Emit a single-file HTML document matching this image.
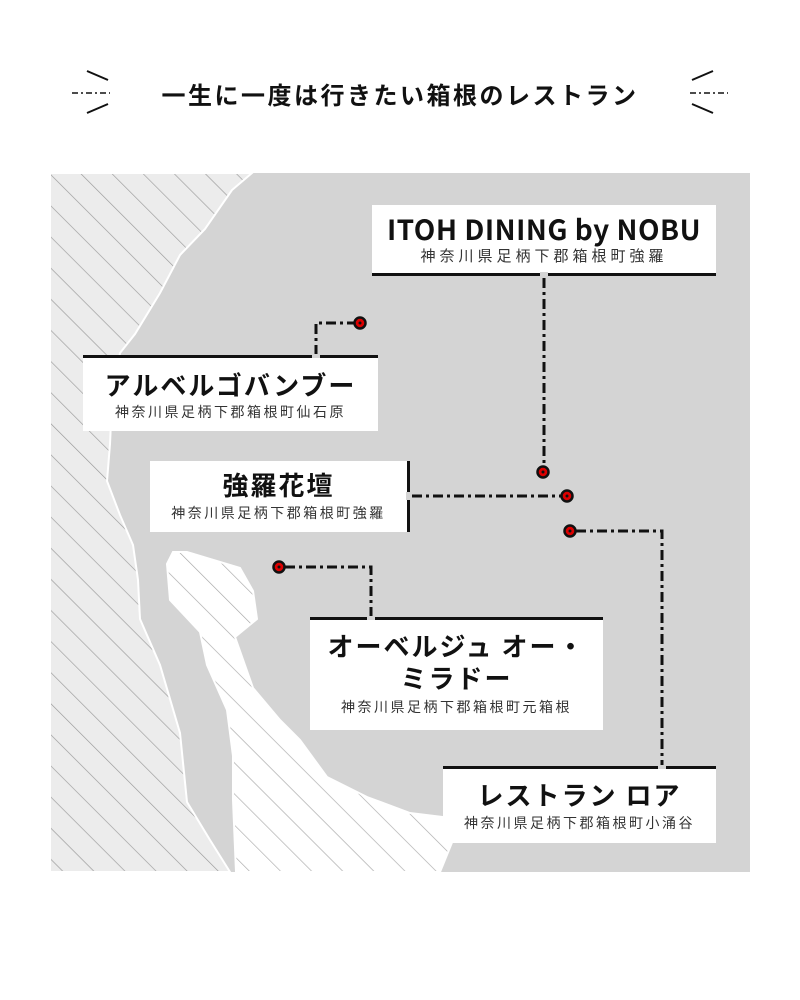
<!DOCTYPE html>
<html><head><meta charset="utf-8"><style>
html,body{margin:0;padding:0;background:#fff;}
body{width:800px;height:1000px;position:relative;overflow:hidden;font-family:"Liberation Sans","Noto Sans CJK JP",sans-serif;}
.box{position:absolute;background:#fff;text-align:center;color:#111;}
.t{font-family:"Noto Sans CJK JP",sans-serif;font-weight:bold;font-size:26px;letter-spacing:2px;line-height:32px;}
.a{font-family:"Noto Sans CJK JP",sans-serif;font-size:14px;letter-spacing:2.5px;color:#333;line-height:18px;}
h1{position:absolute;left:0;width:800px;top:76px;margin:0;text-align:center;font-family:"Noto Sans CJK JP",sans-serif;font-size:24px;letter-spacing:2.5px;font-weight:bold;color:#111;}
</style></head><body>
<svg width="800" height="1000" style="position:absolute;left:0;top:0">
<defs>
<pattern id="h1" patternUnits="userSpaceOnUse" width="22" height="22" patternTransform="rotate(-45)">
<rect width="22" height="22" fill="#ececec"/><line x1="0" y1="0" x2="0" y2="22" stroke="#9a9a9a" stroke-width="1.3"/></pattern>
<pattern id="h2" patternUnits="userSpaceOnUse" width="22" height="22" patternTransform="rotate(-45)">
<rect width="22" height="22" fill="#fff"/><line x1="0" y1="0" x2="0" y2="22" stroke="#a8a8a8" stroke-width="1.3"/></pattern>
</defs>
<g stroke="#111" stroke-width="2" fill="none">
<line x1="87" y1="71" x2="108" y2="80"/><line x1="87" y1="113" x2="108" y2="104"/>
<line x1="72" y1="93" x2="110" y2="93" stroke-dasharray="6 3 2 3" stroke-width="1.5"/>
<line x1="692" y1="80" x2="713" y2="71"/><line x1="692" y1="104" x2="713" y2="113"/>
<line x1="690" y1="93" x2="728" y2="93" stroke-dasharray="6 3 2 3" stroke-width="1.5"/>
</g>
<rect x="50" y="173" width="700" height="699" fill="#d4d4d4"/>
<path d="M50,173 L252,173 L232,190 L205,229 L180,255 L160,293 L135,334 L120,353 L112,400 L110,444 L107,481 L120,515 L133,545 L138,580 L140,619 L160,665 L180,733 L187,802 L210,840 L230,872 L50,872 Z" fill="url(#h1)" stroke="#fff" stroke-width="2"/>
<path d="M173,552 L187,552 L240,568 L253,591 L257,619 L235,637 L253,688 L280,720 L300,740 L327,777 L367,797 L410,813 L443,817 L453,840 L440,872 L236,872 L233,800 L233,756 L227,710 L207,665 L200,632 L170,600 L167,564 Z" fill="url(#h2)" stroke="#fff" stroke-width="2"/>
<g stroke="#111" stroke-width="3" fill="none" stroke-dasharray="10 4 3 4">
<polyline points="544,278 544,466"/>
<polyline points="316,355 316,323 354,323"/>
<polyline points="412,496 561,496"/>
<polyline points="576,531 662,531 662,766"/>
<polyline points="371,617 371,567 285,567"/>
</g>
<g fill="#d00" stroke="#111" stroke-width="2.5">
<circle cx="543" cy="472" r="5.5"/><circle cx="360" cy="323" r="5.5"/><circle cx="567" cy="496" r="5.5"/><circle cx="570" cy="531" r="5.5"/><circle cx="279" cy="567" r="5.5"/>
</g>
<g fill="#111"><circle cx="543" cy="472" r="1.5"/><circle cx="360" cy="323" r="1.5"/><circle cx="567" cy="496" r="1.5"/><circle cx="570" cy="531" r="1.5"/><circle cx="279" cy="567" r="1.5"/></g>
</svg>
<h1>一生に一度は行きたい箱根のレストラン</h1>

<div class="box" style="left:372px;top:205px;width:344px;height:68px;border-bottom:3px solid #111;">
<div class="t" style="margin-top:8px;letter-spacing:0.5px;font-size:28px;">ITOH DINING by NOBU</div><div class="a" style="margin-top:2px;font-size:15px;letter-spacing:4px">神奈川県足柄下郡箱根町強羅</div></div>

<div class="box" style="left:83px;top:355px;width:295px;height:73px;border-top:3px solid #111;">
<div class="t" style="margin-top:11px">アルベルゴバンブー</div><div class="a" style="margin-top:2px">神奈川県足柄下郡箱根町仙石原</div></div>

<div class="box" style="left:150px;top:461px;width:257px;height:71px;border-right:3px solid #111;">
<div class="t" style="margin-top:8px">強羅花壇</div><div class="a" style="margin-top:3px">神奈川県足柄下郡箱根町強羅</div></div>

<div class="box" style="left:310px;top:617px;width:293px;height:110px;border-top:3px solid #111;">
<div class="t" style="margin-top:10px">オーベルジュ オー・<br>ミラドー</div><div class="a" style="margin-top:4px">神奈川県足柄下郡箱根町元箱根</div></div>

<div class="box" style="left:443px;top:766px;width:273px;height:74px;border-top:3px solid #111;">
<div class="t" style="margin-top:10px">レストラン ロア</div><div class="a" style="margin-top:3px">神奈川県足柄下郡箱根町小涌谷</div></div>

<div style="position:absolute;left:540px;top:272px;width:8px;height:5px;background:#d4d4d4"></div>
<div style="position:absolute;left:312px;top:354px;width:8px;height:4px;background:#d4d4d4"></div>
<div style="position:absolute;left:406px;top:492px;width:5px;height:8px;background:#d4d4d4"></div>
<div style="position:absolute;left:367px;top:616px;width:8px;height:4px;background:#d4d4d4"></div>
<div style="position:absolute;left:658px;top:765px;width:8px;height:4px;background:#d4d4d4"></div>
</body></html>
